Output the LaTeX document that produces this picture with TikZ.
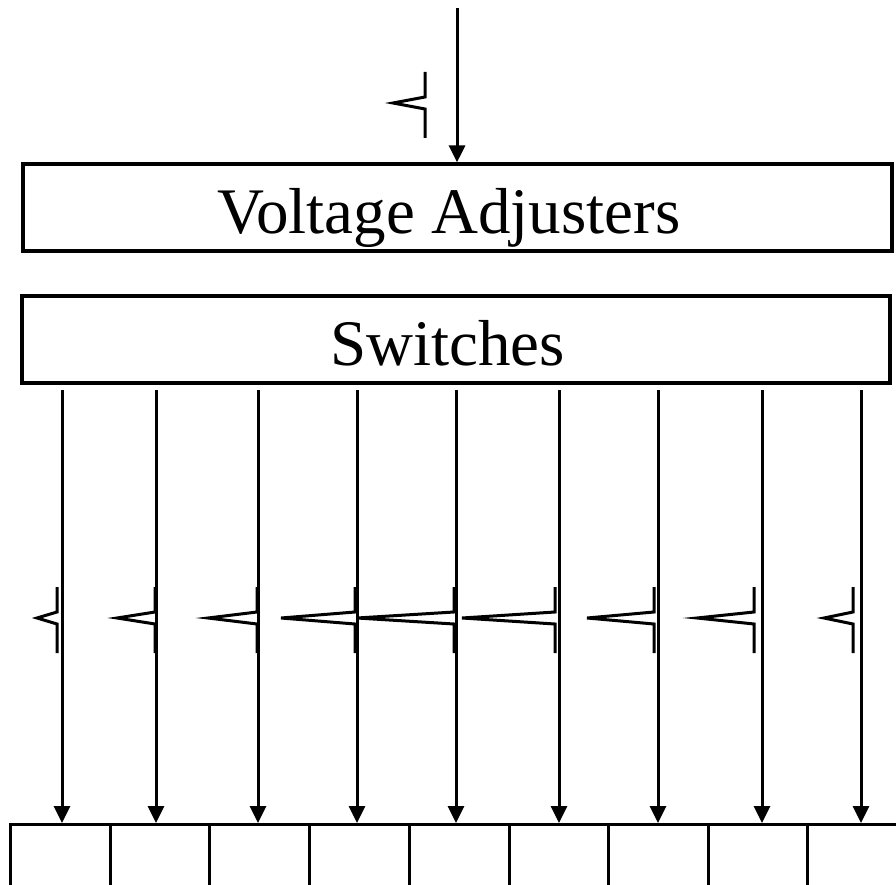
\documentclass[tikz,border=0pt]{standalone}
\usepackage{fontspec}
\setmainfont{Liberation Serif}
\usetikzlibrary{arrows.meta}
\newcommand\mypulse[3]{% x of vertical, width, y top
  \draw[pulseline] (#1,-#3) -- (#1,-#3-25) -- (#1-#2,-#3-31) -- (#1,-#3-37) -- (#1,-#3-66);}
\begin{document}
\begin{tikzpicture}[x=1pt,y=1pt,
  box/.style={draw, line width=3.2pt, inner sep=0pt},
  label/.style={inner sep=0pt, anchor=base, font=\fontsize{65}{70}\selectfont},
  cell/.style={draw, line width=3.2pt, inner sep=0pt, minimum height=90pt},
  arr/.style={line width=3pt, -{Triangle[length=17pt,width=16pt]}},
  pulseline/.style={line width=3pt, line join=miter}]
\useasboundingbox (0,0) rectangle (896,-885);
\clip (0,0) rectangle (896,-885);
\node[box, minimum width=869pt, minimum height=87pt] (va) at (457.5,-207.5) {};
\node[label] (vat) at (449,-234) {Voltage Adjusters};
\node[box, minimum width=868pt, minimum height=87pt] (sw) at (456,-339.5) {};
\node[label] (swt) at (447.5,-365) {Switches};
\coordinate (in) at (457,-8);
\draw[arr] (in) -- (in |- va.north);
\mypulse{425}{32}{72}
% bottom cells
\foreach \i/\a/\b in {1/9/109,2/109/208,3/208/308,4/308/408,5/408/508,6/508/607,7/607/707,8/707/806,9/806/906}{
  \node[cell, minimum width={\b-\a}, anchor=north west] (c\i) at (\a,-823) {};
}
\foreach \i/\x in {1/62,2/156,3/258,4/357,5/456,6/559,7/658,8/762,9/861}{
  \coordinate (s\i) at (\x,-390);
  \draw[arr] (s\i) -- (s\i |- c\i.north);
}
\mypulse{57}{20}{587}
\mypulse{155}{38}{587}
\mypulse{257}{49}{587}
\mypulse{355}{74}{587}
\mypulse{454}{97}{587}
\mypulse{555}{93}{587}
\mypulse{654}{67}{587}
\mypulse{754}{57}{587}
\mypulse{853}{29}{587}
\end{tikzpicture}
\end{document}
